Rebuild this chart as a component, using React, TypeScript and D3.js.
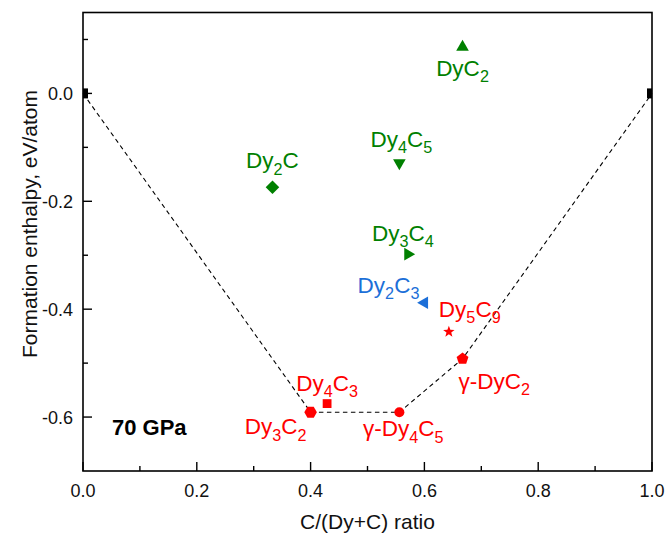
import React from "react";
import * as d3 from "d3";

// ---------- data ----------
const compounds = ["Dy_2C", "Dy_4C_5", "DyC_2", "Dy_3C_4", "Dy_2C_3", "Dy_5C_9", "γ-DyC_2", "Dy_4C_3", "Dy_3C_2", "γ-Dy_4C_5"];
const ratios = [0.333, 0.556, 0.667, 0.571, 0.6, 0.643, 0.667, 0.429, 0.4, 0.556];
const enthalpies = [-0.174, -0.129, 0.086, -0.298, -0.388, -0.442, -0.492, -0.575, -0.591, -0.591];
const groups = ["unstable", "unstable", "unstable", "unstable", "metastable", "stable", "stable", "stable", "stable", "stable"];
const hullRatios = [0, 0.4, 0.556, 0.667, 1];
const hullEnthalpies = [0, -0.591, -0.591, -0.492, 0];
const endRatios = [0, 1];
const endEnthalpies = [0, 0];
const xTicks = [0, 0.2, 0.4, 0.6, 0.8, 1.0];
const yTicks = [-0.6, -0.4, -0.2, 0.0];
const xMinor = [0.1, 0.3, 0.5, 0.7, 0.9];
const yMinor = [-0.5, -0.3, -0.1, 0.1];
const pressureLabel = "70 GPa";
const xTitle = "C/(Dy+C) ratio";
const yTitle = "Formation enthalpy, eV/atom";

// ---------- styles ----------
const groupColor: Record<string, string> = { unstable: "#008000", metastable: "#1c6fd8", stable: "#ff0000" };
const markerShapes = ["diamond", "triDown", "triUp", "triRight", "triLeft", "star", "pentagon", "square", "hexagon", "circle"];
// label placement: [dx, dy, anchor]
const labelPlacement: [number, number, string][] = [
  [0, -19, "middle"],
  [2, -16, "middle"],
  [0, 29, "middle"],
  [-5, -13, "middle"],
  [-5, -10, "end"],
  [-10, -15, "start"],
  [-4, 30, "start"],
  [0, -13, "middle"],
  [-4, 22, "end"],
  [4, 24, "middle"],
];

const W = 667, H = 536;
const L = 83, R = 652, T = 12.5, B = 471;
const FONT = "'Liberation Sans', Arial, Helvetica, sans-serif";

function polygon(n: number, r: number, rot: number): string {
  const pts = d3.range(n).map((i) => {
    const a = rot + (i * 2 * Math.PI) / n;
    return [r * Math.cos(a), r * Math.sin(a)];
  });
  return "M" + pts.map((p) => p[0].toFixed(2) + "," + p[1].toFixed(2)).join("L") + "Z";
}

function star(ro: number, ri: number): string {
  const pts = d3.range(10).map((i) => {
    const a = -Math.PI / 2 + (i * Math.PI) / 5;
    const r = i % 2 === 0 ? ro : ri;
    return [r * Math.cos(a), r * Math.sin(a)];
  });
  return "M" + pts.map((p) => p[0].toFixed(2) + "," + p[1].toFixed(2)).join("L") + "Z";
}

function shapePath(s: string): string {
  switch (s) {
    case "diamond": return polygon(4, 6.8, -Math.PI / 2);
    case "triUp": return polygon(3, 7.3, -Math.PI / 2);
    case "triDown": return polygon(3, 7.3, Math.PI / 2);
    case "triRight": return polygon(3, 7.3, 0);
    case "triLeft": return polygon(3, 7.3, Math.PI);
    case "star": return star(6, 2.5);
    case "pentagon": return polygon(5, 6.2, -Math.PI / 2);
    case "square": return "M-4.4,-4.4L4.4,-4.4L4.4,4.4L-4.4,4.4Z";
    case "hexagon": return polygon(6, 6.3, 0);
    case "circle": return d3.symbol().type(d3.symbolCircle).size(Math.PI * 25)() as string;
    default: return "";
  }
}

function Formula({ text, x, y, size, color, anchor }: { text: string; x: number; y: number; size: number; color: string; anchor: string }) {
  const parts: { t: string; sub: boolean }[] = [];
  let i = 0;
  let buf = "";
  while (i < text.length) {
    if (text[i] === "_") {
      if (buf) parts.push({ t: buf, sub: false });
      buf = "";
      parts.push({ t: text[i + 1], sub: true });
      i += 2;
    } else {
      buf += text[i];
      i++;
    }
  }
  if (buf) parts.push({ t: buf, sub: false });
  const shift = size * 0.28;
  let cur = 0;
  return (
    <text x={x} y={y} fill={color} fontSize={size} fontFamily={FONT} textAnchor={anchor}>
      {parts.map((p, k) => {
        const target = p.sub ? shift : 0;
        const dy = target - cur;
        cur = target;
        return (
          <tspan key={k} dy={dy} fontSize={p.sub ? size * 0.72 : size}>
            {p.t}
          </tspan>
        );
      })}
    </text>
  );
}

const fmt = (v: number) => {
  const s = v.toFixed(1);
  return s === "-0.0" ? "0.0" : s;
};

export default function App() {
  const x = d3.scaleLinear().domain([0, 1]).range([L, R]);
  const y = d3.scaleLinear().domain([-0.7, 0.15]).range([B, T]);
  const hullLine = d3
    .line<number>()
    .x((_, i) => x(hullRatios[i]))
    .y((_, i) => y(hullEnthalpies[i]));

  return (
    <svg width={W} height={H} style={{ position: "absolute", left: 0, top: 0, background: "#fff" }}>
      <defs>
        <clipPath id="plotclip">
          <rect x={L} y={T} width={R - L} height={B - T} />
        </clipPath>
      </defs>
      <rect x={0} y={0} width={W} height={H} fill="#fff" />

      {/* hull */}
      <path d={hullLine(hullRatios) || ""} fill="none" stroke="#000" strokeWidth={1.1} strokeDasharray="4.5,3.5" />

      {/* endpoints */}
      <g clipPath="url(#plotclip)">
        {endRatios.map((r, i) => (
          <rect key={i} x={x(r) - 5} y={y(endEnthalpies[i]) - 5} width={10} height={10} fill="#000" />
        ))}
      </g>

      {/* frame */}
      <rect x={L} y={T} width={R - L} height={B - T} fill="none" stroke="#000" strokeWidth={1.6} />

      {/* x ticks */}
      {xTicks.map((t) => (
        <g key={"x" + t}>
          <line x1={x(t)} x2={x(t)} y1={B} y2={B - 9} stroke="#000" strokeWidth={1.4} />
          <text x={x(t)} y={B + 26} textAnchor="middle" fontSize={18} fontFamily={FONT} fill="#111">
            {fmt(t)}
          </text>
        </g>
      ))}
      {xMinor.map((t) => (
        <line key={"xm" + t} x1={x(t)} x2={x(t)} y1={B} y2={B - 5} stroke="#000" strokeWidth={1.4} />
      ))}
      {/* y ticks */}
      {yTicks.map((t) => (
        <g key={"y" + t}>
          <line x1={L} x2={L + 9} y1={y(t)} y2={y(t)} stroke="#000" strokeWidth={1.4} />
          <text x={L - 10} y={y(t) + 6.5} textAnchor="end" fontSize={18} fontFamily={FONT} fill="#111">
            {fmt(t)}
          </text>
        </g>
      ))}
      {yMinor.map((t) => (
        <line key={"ym" + t} x1={L} x2={L + 5} y1={y(t)} y2={y(t)} stroke="#000" strokeWidth={1.4} />
      ))}

      {/* axis titles */}
      <text x={(L + R) / 2} y={529} textAnchor="middle" fontSize={21} fontFamily={FONT} fill="#111">
        {xTitle}
      </text>
      <text
        transform={`translate(37,${224}) rotate(-90)`}
        textAnchor="middle"
        fontSize={21}
        fontFamily={FONT}
        fill="#111"
      >
        {yTitle}
      </text>

      {/* markers */}
      {compounds.map((c, i) => (
        <path
          key={"m" + i}
          d={shapePath(markerShapes[i])}
          transform={`translate(${x(ratios[i])},${y(enthalpies[i])})`}
          fill={groupColor[groups[i]]}
        />
      ))}

      {/* labels */}
      {compounds.map((c, i) => (
        <Formula
          key={"l" + i}
          text={c}
          x={x(ratios[i]) + labelPlacement[i][0]}
          y={y(enthalpies[i]) + labelPlacement[i][1]}
          size={22.5}
          color={groupColor[groups[i]]}
          anchor={labelPlacement[i][2]}
        />
      ))}

      <text x={112} y={435} fontSize={22} fontWeight="bold" fontFamily={FONT} fill="#000">
        {pressureLabel}
      </text>
    </svg>
  );
}
